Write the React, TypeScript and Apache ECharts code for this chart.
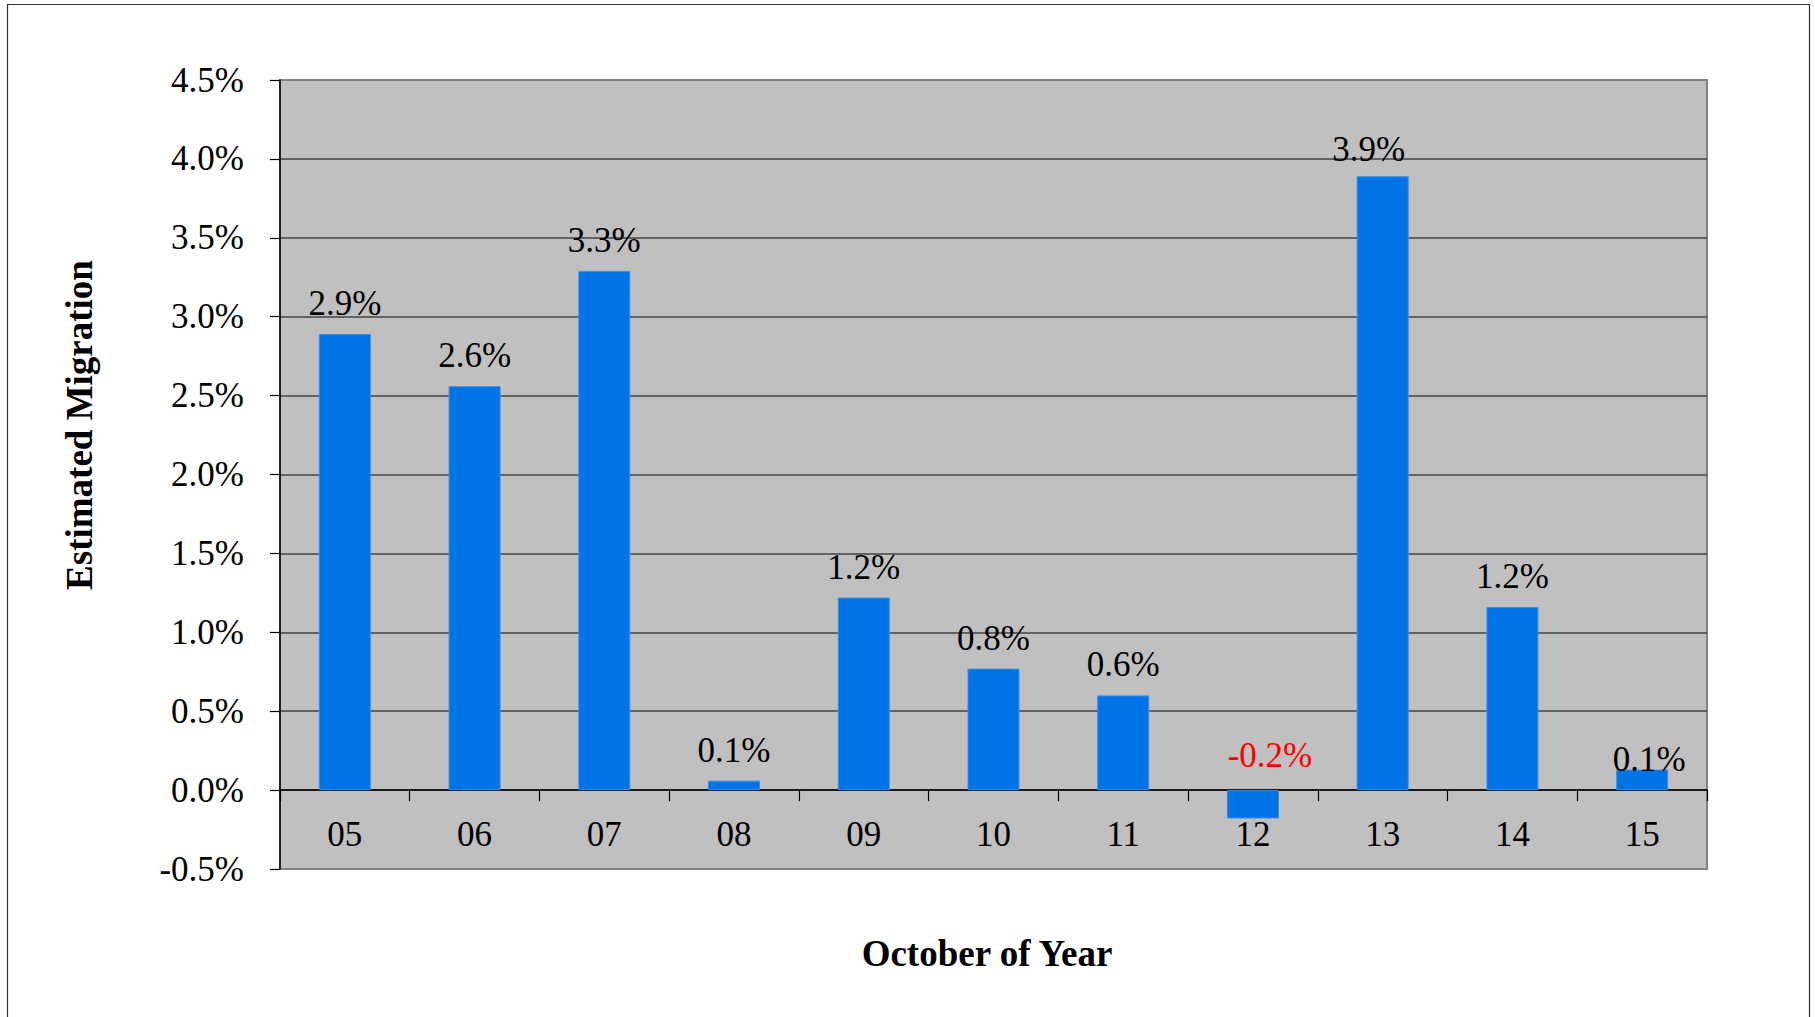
import React, { useEffect, useRef } from "react";
import * as echarts from "echarts";

const categories = ["05", "06", "07", "08", "09", "10", "11", "12", "13", "14", "15"];
const migration = [2.89, 2.56, 3.29, 0.06, 1.22, 0.77, 0.6, -0.18, 3.89, 1.16, 0.13];
const yMin = -0.5;
const yMax = 4.5;
const yStep = 0.5;
const xTitle = "October of Year";
const yTitle = "Estimated Migration";

// label nudges (styling only), keyed by category
const labelNudge: Record<string, { offset: number[]; color?: string }> = {
  "12": { offset: [17, -4], color: "#FF0000" },
  "13": { offset: [-14, 4] },
  "15": { offset: [7, 20] },
};

const FONT = "'Times New Roman', 'Liberation Serif', serif";

export default function App() {
  const ref = useRef<HTMLDivElement>(null);
  useEffect(() => {
    if (!ref.current) return;
    const chart = echarts.init(ref.current, undefined, { renderer: "svg" });
    const data = migration.map((v, i) => {
      const n = labelNudge[categories[i]];
      const item: any = { value: v };
      if (n) {
        item.label = { offset: n.offset };
        if (n.color) item.label.color = n.color;
      }
      return item;
    });
    chart.setOption({
      animation: false,
      backgroundColor: "#ffffff",
      textStyle: { fontFamily: FONT },
      grid: {
        left: 280,
        top: 80,
        right: 108,
        bottom: 148,
        show: true,
        backgroundColor: "#C0C0C0",
        borderColor: "#808080",
        borderWidth: 2,
      },
      xAxis: {
        type: "category",
        data: categories,
        axisLine: { show: true, onZero: true, lineStyle: { color: "#000", width: 1.5 } },
        axisTick: { show: true, length: 11, lineStyle: { color: "#000", width: 1.2 } },
        axisLabel: { margin: -52, fontSize: 35, color: "#000", fontFamily: FONT },
        splitLine: { show: false },
      },
      yAxis: {
        type: "value",
        min: yMin,
        max: yMax,
        interval: yStep,
        axisLine: { show: true, lineStyle: { color: "#000", width: 1.5 } },
        axisTick: { show: true, length: 10, lineStyle: { color: "#000", width: 1.2 } },
        axisLabel: {
          margin: 36,
          fontSize: 35,
          color: "#000",
          fontFamily: FONT,
          formatter: (v: number) => v.toFixed(1) + "%",
        },
        splitLine: {
          show: true,
          showMinLine: false,
          showMaxLine: false,
          lineStyle: { color: "#444444", width: 1.5 },
        },
      },
      series: [
        {
          type: "bar",
          data,
          barWidth: 52,
          itemStyle: { color: "#0073E6", borderColor: "#3b8fe6", borderWidth: 1 },
          label: {
            show: true,
            position: "top",
            distance: 13,
            fontSize: 35,
            color: "#000",
            fontFamily: FONT,
            formatter: (p: any) => Number(p.value).toFixed(1) + "%",
          },
        },
      ],
      graphic: [
        {
          type: "rect",
          silent: true,
          z: -10,
          shape: { x: 7.5, y: 4.5, width: 1802, height: 1100 },
          style: { fill: "none", stroke: "#333333", lineWidth: 1.2 },
        },
        {
          type: "text",
          x: 79,
          y: 425,
          rotation: Math.PI / 2,
          style: {
            text: yTitle,
            font: `bold 37px ${FONT}`,
            fill: "#000",
            align: "center",
            verticalAlign: "middle",
          },
        },
        {
          type: "text",
          x: 987,
          y: 953,
          style: {
            text: xTitle,
            font: `bold 37px ${FONT}`,
            fill: "#000",
            align: "center",
            verticalAlign: "middle",
          },
        },
      ],
    });
    return () => chart.dispose();
  }, []);
  return (
    <div
      ref={ref}
      style={{ position: "fixed", left: 0, top: 0, width: 1815, height: 1017 }}
    />
  );
}
